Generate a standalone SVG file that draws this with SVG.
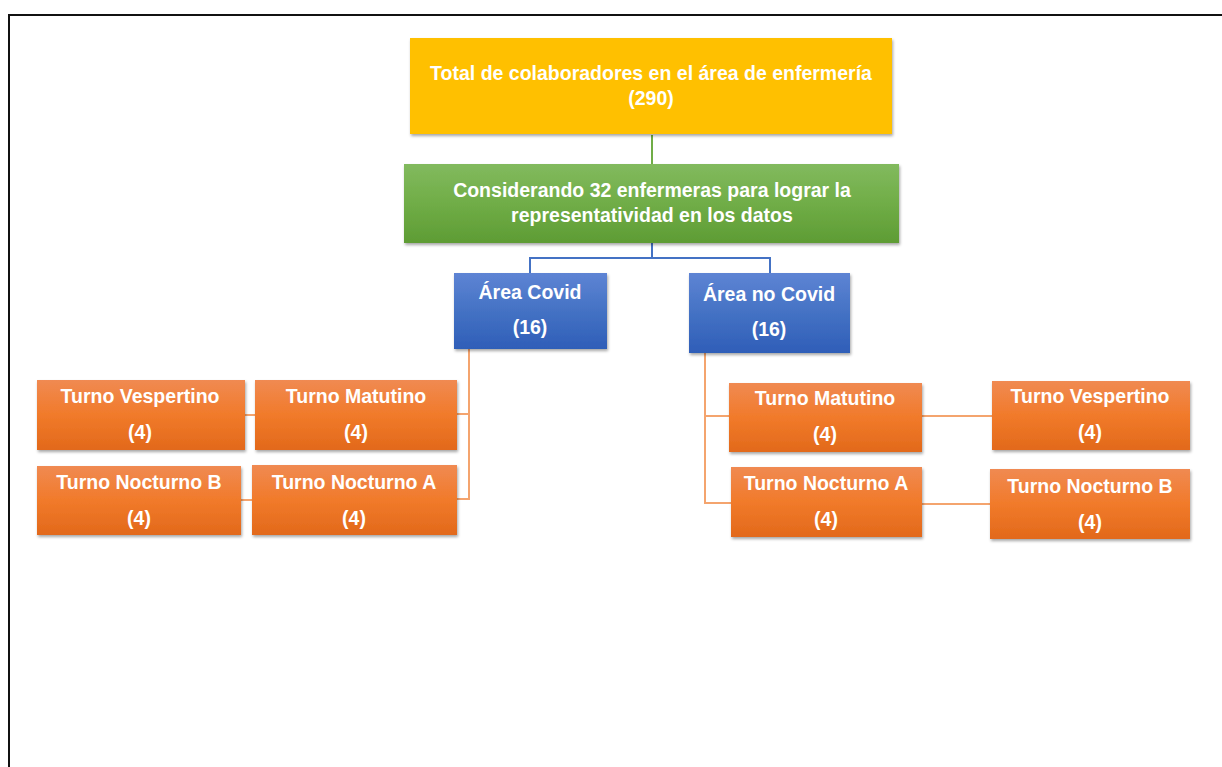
<svg xmlns="http://www.w3.org/2000/svg" width="1222" height="767" viewBox="0 0 1222 767">
<defs>
<linearGradient id="gGreen" x1="0" y1="0" x2="0" y2="1"><stop offset="0" stop-color="#82BA5E"/><stop offset="0.5" stop-color="#70AD47"/><stop offset="1" stop-color="#5E9C34"/></linearGradient>
<linearGradient id="gBlue" x1="0" y1="0" x2="0" y2="1"><stop offset="0" stop-color="#5E84D4"/><stop offset="0.5" stop-color="#4472C4"/><stop offset="1" stop-color="#2F5EB8"/></linearGradient>
<linearGradient id="gOrange" x1="0" y1="0" x2="0" y2="1"><stop offset="0" stop-color="#F08A52"/><stop offset="0.5" stop-color="#F17A2A"/><stop offset="1" stop-color="#E2691B"/></linearGradient>
<filter id="sh" x="-5%" y="-5%" width="112%" height="120%"><feDropShadow dx="1" dy="2" stdDeviation="1.5" flood-color="#000" flood-opacity="0.35"/></filter>
</defs>
<style>
.box{filter:url(#sh);}
.t{font-family:"Liberation Sans",Arial,sans-serif;font-weight:bold;font-size:19.5px;fill:#FFFFFF;text-anchor:middle;}
.c{fill:none;stroke-width:2;}
.cg{stroke:#70AD47;}
.cb{stroke:#4472C4;}
.co{stroke:#F4A46E;}
</style>
<rect x="0" y="0" width="1222" height="767" fill="#FFFFFF"/>
<path d="M9 767 V15 H1222" fill="none" stroke="#111" stroke-width="2"/>

<g id="connectors">
<path class="c cg" d="M652 135 V164"/>
<path class="c cb" d="M652 243 V258 H530 V273 M652 258 H770 V273"/>
<path class="c co" d="M469 349 V499 H457 M469 414 H457 M245 415 H255 M241 500 H252"/>
<path class="c co" d="M705 353 V503 H731 M705 416 H729 M922 416 H992 M922 504 H990"/>
</g>

<g id="total">
<rect class="box" x="410" y="38" width="482" height="96" fill="#FFC000"/>
<text class="t" x="651" y="80">Total de colaboradores en el área de enfermería</text>
<text class="t" x="651" y="105">(290)</text>
</g>
<g id="considerando">
<rect class="box" x="404" y="164" width="495" height="79" fill="url(#gGreen)"/>
<text class="t" x="652" y="197">Considerando 32 enfermeras para lograr la</text>
<text class="t" x="652" y="222">representatividad en los datos</text>
</g>
<g id="area-covid">
<rect class="box" x="454" y="273" width="153" height="76" fill="url(#gBlue)"/>
<text class="t" x="530" y="299">Área Covid</text>
<text class="t" x="530" y="334">(16)</text>
</g>
<g id="area-no-covid">
<rect class="box" x="689" y="273" width="161" height="80" fill="url(#gBlue)"/>
<text class="t" x="769" y="301">Área no Covid</text>
<text class="t" x="769" y="336">(16)</text>
</g>

<g id="l-vespertino">
<rect class="box" x="37" y="380" width="208" height="70" fill="url(#gOrange)"/>
<text class="t" x="140" y="403">Turno Vespertino</text>
<text class="t" x="140" y="439">(4)</text>
</g>
<g id="l-matutino">
<rect class="box" x="255" y="380" width="202" height="70" fill="url(#gOrange)"/>
<text class="t" x="356" y="403">Turno Matutino</text>
<text class="t" x="356" y="439">(4)</text>
</g>
<g id="l-nocturno-b">
<rect class="box" x="37" y="466" width="204" height="69" fill="url(#gOrange)"/>
<text class="t" x="139" y="489">Turno Nocturno B</text>
<text class="t" x="139" y="525">(4)</text>
</g>
<g id="l-nocturno-a">
<rect class="box" x="252" y="465" width="205" height="70" fill="url(#gOrange)"/>
<text class="t" x="354" y="489">Turno Nocturno A</text>
<text class="t" x="354" y="525">(4)</text>
</g>

<g id="r-matutino">
<rect class="box" x="729" y="383" width="193" height="69" fill="url(#gOrange)"/>
<text class="t" x="825" y="405">Turno Matutino</text>
<text class="t" x="825" y="441">(4)</text>
</g>
<g id="r-vespertino">
<rect class="box" x="992" y="381" width="198" height="69" fill="url(#gOrange)"/>
<text class="t" x="1090" y="403">Turno Vespertino</text>
<text class="t" x="1090" y="439">(4)</text>
</g>
<g id="r-nocturno-a">
<rect class="box" x="731" y="467" width="191" height="70" fill="url(#gOrange)"/>
<text class="t" x="826" y="490">Turno Nocturno A</text>
<text class="t" x="826" y="526">(4)</text>
</g>
<g id="r-nocturno-b">
<rect class="box" x="990" y="469" width="200" height="70" fill="url(#gOrange)"/>
<text class="t" x="1090" y="493">Turno Nocturno B</text>
<text class="t" x="1090" y="529">(4)</text>
</g>
</svg>
